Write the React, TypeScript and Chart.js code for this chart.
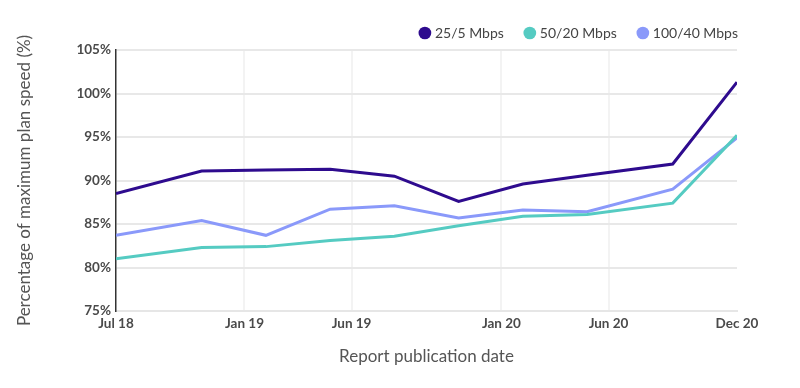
import React, { useEffect, useRef } from "react";
import { Chart, registerables } from "chart.js";

Chart.register(...registerables);

// months since Jul 2018 for each report
const monthOffsets = [0, 4, 7, 10, 13, 16, 19, 22, 26, 29];
const tier25 = [88.5, 91.1, 91.2, 91.3, 90.5, 87.6, 89.6, 90.6, 91.9, 101.3];
const tier50 = [81.0, 82.3, 82.4, 83.1, 83.6, 84.8, 85.9, 86.1, 87.4, 95.2];
const tier100 = [83.7, 85.4, 83.7, 86.7, 87.1, 85.7, 86.6, 86.4, 89.0, 94.9];
const xTickValues = [0, 6, 11, 18, 23, 29];
const xTickLabels = ["Jul 18", "Jan 19", "Jun 19", "Jan 20", "Jun 20", "Dec 20"];
const seriesNames = ["25/5 Mbps", "50/20 Mbps", "100/40 Mbps"];
const seriesColors = ["#2E0B8E", "#55CBC2", "#8A99FA"];

const FONT = "Lato";

const legendShift = {
  id: "legendShift",
  afterLayout(chart: any) {
    if (chart.legend) {
      chart.legend.left += 24;
      chart.legend.right += 24;
    }
  },
};

export default function App() {
  const ref = useRef<HTMLCanvasElement | null>(null);
  useEffect(() => {
    if (!ref.current) return;
    const series = [tier25, tier50, tier100];
    const chart = new Chart(ref.current, {
      type: "line",
      data: {
        datasets: series.map((vals, i) => ({
          label: seriesNames[i],
          data: vals.map((v, j) => ({ x: monthOffsets[j], y: v })),
          borderColor: seriesColors[i],
          backgroundColor: seriesColors[i],
          borderWidth: 3,
          pointRadius: 0,
          tension: 0,
        })),
      },
      plugins: [legendShift],
      options: {
        animation: false,
        responsive: true,
        maintainAspectRatio: false,
        layout: { padding: { top: 3, right: 63, bottom: 0, left: 0 } },
        plugins: {
          tooltip: { enabled: false },
          legend: {
            position: "top",
            align: "end",
            labels: {
              usePointStyle: true,
              pointStyle: "circle",
              boxWidth: 6,
              boxHeight: 9,
              padding: 23,
              color: "#444",
              font: { family: FONT, size: 14 },
              generateLabels: (c: any) =>
                Chart.defaults.plugins.legend.labels
                  .generateLabels(c)
                  .map((l: any) => ({ ...l, lineWidth: 0 })),
            },
          },
        },
        scales: {
          x: {
            type: "linear",
            min: 0,
            max: 29,
            afterBuildTicks: (axis: any) => {
              axis.ticks = xTickValues.map((v) => ({ value: v }));
            },
            afterFit: (s: any) => {
              s.height = 77;
            },
            ticks: {
              padding: 5,
              autoSkip: false,
              maxRotation: 0,
              color: "#4a4a4a",
              font: { family: FONT, size: 13.5, weight: "bold" },
              callback: (v: any) => {
                const i = xTickValues.indexOf(Number(v));
                return i >= 0 ? xTickLabels[i] : "";
              },
            },
            grid: {
              drawTicks: false,
              lineWidth: 2,
              color: (ctx: any) =>
                ctx.tick && (ctx.tick.value === 29 || ctx.tick.value === 0)
                  ? "rgba(0,0,0,0)"
                  : "#f3f3f3",
            },
            border: { color: "#e6e6e6", width: 2 },
            title: {
              display: true,
              text: "Report publication date",
              color: "#555",
              font: { family: FONT, size: 17 },
              padding: { top: 0, bottom: 21 },
            },
          },
          y: {
            min: 75,
            max: 105,
            afterFit: (s: any) => {
              s.width = 116;
            },
            ticks: {
              stepSize: 5,
              padding: 5,
              color: "#4a4a4a",
              font: { family: FONT, size: 13.5, weight: "bold" },
              callback: (v: any) => v + "%",
            },
            grid: { drawTicks: false, lineWidth: 2, color: "#e8e8e8" },
            border: { color: "#333", width: 1.5 },
            title: {
              display: true,
              text: "Percentage of maximum plan speed (%)",
              color: "#555",
              font: { family: FONT, size: 17 },
              padding: { top: 14, bottom: 0 },
            },
          },
        },
      },
    } as any);
    return () => chart.destroy();
  }, []);
  return (
    <div style={{ position: "fixed", left: 0, top: 0, width: 800, height: 388, background: "#fff" }}>
      <canvas ref={ref} />
    </div>
  );
}
